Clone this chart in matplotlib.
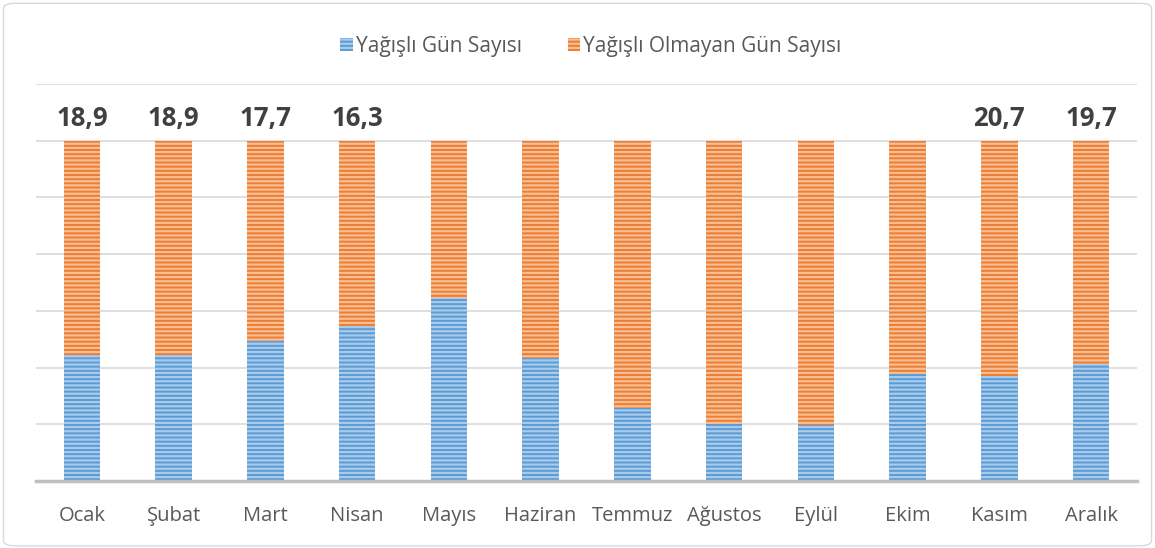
import matplotlib.pyplot as plt
import numpy as np
from matplotlib.patches import FancyBboxPatch, Patch

# Monthly rainy / non-rainy day counts (30-day month basis)
months = ['Ocak', 'Şubat', 'Mart', 'Nisan', 'Mayıs', 'Haziran', 'Temmuz',
          'Ağustos', 'Eylül', 'Ekim', 'Kasım', 'Aralık']
rainy = [11.1, 11.1, 12.3, 13.7, 16.1, 10.8, 6.4, 5.0, 4.9, 9.4, 9.3, 10.3]
dry = [18.9, 18.9, 17.7, 16.3, 13.9, 19.2, 23.6, 25.0, 25.1, 20.6, 20.7, 19.7]
# only some bars carry a value label in the original
shown_labels = ['18,9', '18,9', '17,7', '16,3', '', '', '', '', '', '', '20,7', '19,7']

BLUE = '#5B9BD5'
BLUE_LIGHT = '#A9CBEB'
ORANGE = '#ED7D31'
ORANGE_LIGHT = '#F7BE96'
TEXT = '#595959'

plt.rcParams['font.family'] = ['Open Sans', 'DejaVu Sans']
plt.rcParams['hatch.linewidth'] = 1.6

fig = plt.figure(figsize=(11.55, 5.48), dpi=100)
ax = fig.add_axes([36 / 1155, (548 - 481) / 548, 1101 / 1155, 397 / 548])

x = np.arange(len(months))
width = 0.4
ax.bar(x, rainy, width, color=BLUE, edgecolor=BLUE_LIGHT, hatch='----', linewidth=0, zorder=3)
ax.bar(x, dry, width, bottom=rainy, color=ORANGE, edgecolor=ORANGE_LIGHT, hatch='----',
       linewidth=0, zorder=3)

for xi, r, d, lab in zip(x, rainy, dry, shown_labels):
    if lab:
        ax.text(xi, r + d + 0.75, lab, ha='center', va='bottom', fontsize=18.5,
                fontweight='bold', color='#404040')

ax.set_xlim(-0.5, len(months) - 0.5)
ax.set_ylim(0, 35)
ax.set_yticks(np.arange(0, 36, 5))
ax.yaxis.grid(True, color='#D9D9D9', linewidth=1.2, zorder=0)
ax.set_yticklabels([])
ax.tick_params(axis='y', length=0)
ax.tick_params(axis='x', length=0, pad=18, labelsize=14.5, labelcolor=TEXT)
ax.set_xticks(x)
ax.set_xticklabels(months)
for side in ['top', 'right', 'left']:
    ax.spines[side].set_visible(False)
ax.spines['bottom'].set_color('#BFBFBF')
ax.spines['bottom'].set_linewidth(2.5)
ax.spines['bottom'].set_zorder(4)

handles = [Patch(facecolor=BLUE, edgecolor=BLUE_LIGHT, hatch='----', linewidth=0),
           Patch(facecolor=ORANGE, edgecolor=ORANGE_LIGHT, hatch='----', linewidth=0)]
fig.legend(handles, ['Yağışlı Gün Sayısı', 'Yağışlı Olmayan Gün Sayısı'],
           loc='center', bbox_to_anchor=(591 / 1155, 1 - 46 / 548), ncol=2, frameon=False,
           fontsize=15, labelcolor=TEXT, handlelength=0.6, handleheight=0.6,
           handletextpad=0.15, columnspacing=2.2)

border = FancyBboxPatch((0.003, 0.004), 0.994, 0.99, boxstyle='round,pad=0,rounding_size=0.01',
                        transform=fig.transFigure, facecolor='none', edgecolor='#D9D9D9',
                        linewidth=1)
fig.patches.append(border)

fig.savefig('out.png', dpi=100)
